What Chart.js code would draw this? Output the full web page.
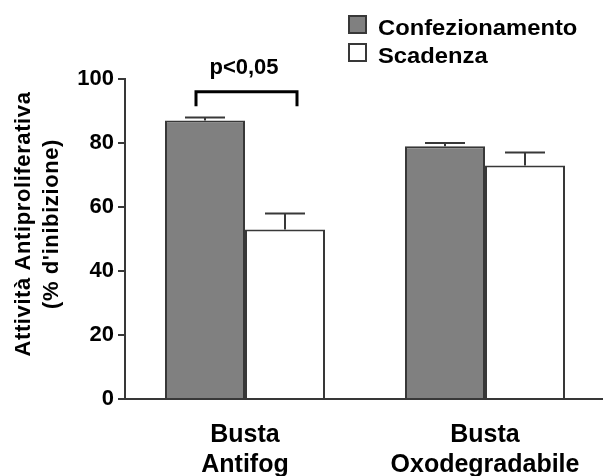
<!DOCTYPE html>
<html>
<head>
<meta charset="utf-8">
<script src="https://cdn.jsdelivr.net/npm/chart.js@4/dist/chart.umd.min.js"></script>
<style>
  html, body { margin: 0; padding: 0; background: #fff; overflow: hidden; }
  #wrap { width: 605px; height: 476px; position: relative; }
</style>
</head>
<body>
<div id="wrap"><canvas id="c" width="605" height="476"></canvas></div>
<script>
// Categories and series
const categories = [["Busta", "Antifog"], ["Busta", "Oxodegradabile"]];
const seriesNames = ["Confezionamento", "Scadenza"];
const confezionamento = [87, 79];
const confezionamentoErr = [1, 1];
const scadenza = [53, 73];
const scadenzaErr = [5, 4];
const yTicks = [0, 20, 40, 60, 80, 100];
const axisTitle = ["Attività Antiproliferativa", "(% d'inibizione)"];
const significance = "p<0,05";

const FONT = "'Liberation Sans', Arial, sans-serif";
const LINE = "#383838";
const errors = [confezionamentoErr, scadenzaErr];

const overlay = {
  id: "overlay",
  afterDatasetsDraw(chart) {
    const ctx = chart.ctx;
    const xs = chart.scales.x, ys = chart.scales.y;
    ctx.save();

    // upper error bars with caps
    ctx.strokeStyle = LINE;
    ctx.lineWidth = 2;
    chart.data.datasets.forEach((ds, di) => {
      chart.getDatasetMeta(di).data.forEach((bar, i) => {
        const yTop = ys.getPixelForValue(ds.data[i] + errors[di][i]);
        ctx.beginPath();
        ctx.moveTo(bar.x, bar.y);
        ctx.lineTo(bar.x, yTop);
        ctx.moveTo(bar.x - 20, yTop);
        ctx.lineTo(bar.x + 20, yTop);
        ctx.stroke();
      });
    });

    // significance bracket over the first group
    const cx = xs.getPixelForValue(0);
    const bl = cx - 49, br = cx + 52;
    const bTop = ys.getPixelForValue(96), bBot = ys.getPixelForValue(91.5);
    ctx.strokeStyle = "#000";
    ctx.lineWidth = 3;
    ctx.lineJoin = "miter";
    ctx.beginPath();
    ctx.moveTo(bl, bBot);
    ctx.lineTo(bl, bTop);
    ctx.lineTo(br, bTop);
    ctx.lineTo(br, bBot);
    ctx.stroke();

    ctx.fillStyle = "#000";
    ctx.font = "bold 22px " + FONT;
    ctx.textAlign = "center";
    ctx.textBaseline = "alphabetic";
    ctx.fillText(significance, cx - 1, 74);

    // legend
    ctx.textAlign = "left";
    ctx.font = "bold 22px " + FONT;
    chart.data.datasets.forEach((ds, di) => {
      const top = 15 + di * 28;
      ctx.fillStyle = ds.backgroundColor;
      ctx.fillRect(348, top, 19, 19);
      ctx.strokeStyle = LINE;
      ctx.lineWidth = 2;
      ctx.strokeRect(349, top + 1, 17, 17);
      ctx.fillStyle = "#000";
      ctx.save();
      ctx.translate(378, top + 20);
      ctx.scale(1.08, 1);
      ctx.fillText(ds.label, 0, 0);
      ctx.restore();
    });

    // y axis title, two lines
    ctx.save();
    ctx.translate(0, 224);
    ctx.rotate(-Math.PI / 2);
    ctx.textAlign = "center";
    ctx.textBaseline = "middle";
    ctx.font = "bold 22px " + FONT;
    ctx.letterSpacing = "0.6px";
    ctx.fillStyle = "#000";
    ctx.fillText(axisTitle[0], 0, 24);
    ctx.fillText(axisTitle[1], 0, 52);
    ctx.restore();

    ctx.restore();
  }
};

new Chart(document.getElementById("c"), {
  type: "bar",
  data: {
    labels: categories,
    datasets: [
      {
        label: seriesNames[0],
        data: confezionamento,
        backgroundColor: "#808080",
        borderColor: LINE,
        borderWidth: 2
      },
      {
        label: seriesNames[1],
        data: scadenza,
        backgroundColor: "#ffffff",
        borderColor: LINE,
        borderWidth: 2
      }
    ]
  },
  options: {
    responsive: false,
    animation: false,
    devicePixelRatio: 1,
    layout: { padding: { top: 79, left: 0, right: 0, bottom: 0 } },
    datasets: { bar: { categoryPercentage: 2 / 3, barPercentage: 1 } },
    plugins: {
      legend: { display: false },
      tooltip: { enabled: false }
    },
    scales: {
      x: {
        offset: true,
        grid: { display: false, drawTicks: false },
        border: { display: true, color: LINE, width: 2 },
        ticks: {
          color: "#000",
          padding: 21,
          font: { family: FONT, size: 25, weight: "bold", lineHeight: 1.2 }
        },
        afterFit(scale) { scale.height = 77; }
      },
      y: {
        min: 0,
        max: 100,
        afterBuildTicks(scale) { scale.ticks = yTicks.map(v => ({ value: v })); },
        grid: { drawOnChartArea: false, drawTicks: true, tickLength: 7, color: LINE, lineWidth: 2 },
        border: { display: true, color: LINE, width: 2 },
        ticks: {
          color: "#000",
          padding: 4,
          font: { family: FONT, size: 22, weight: "bold" }
        },
        afterFit(scale) { scale.width = 125; }
      }
    }
  },
  plugins: [overlay]
});
</script>
</body>
</html>
